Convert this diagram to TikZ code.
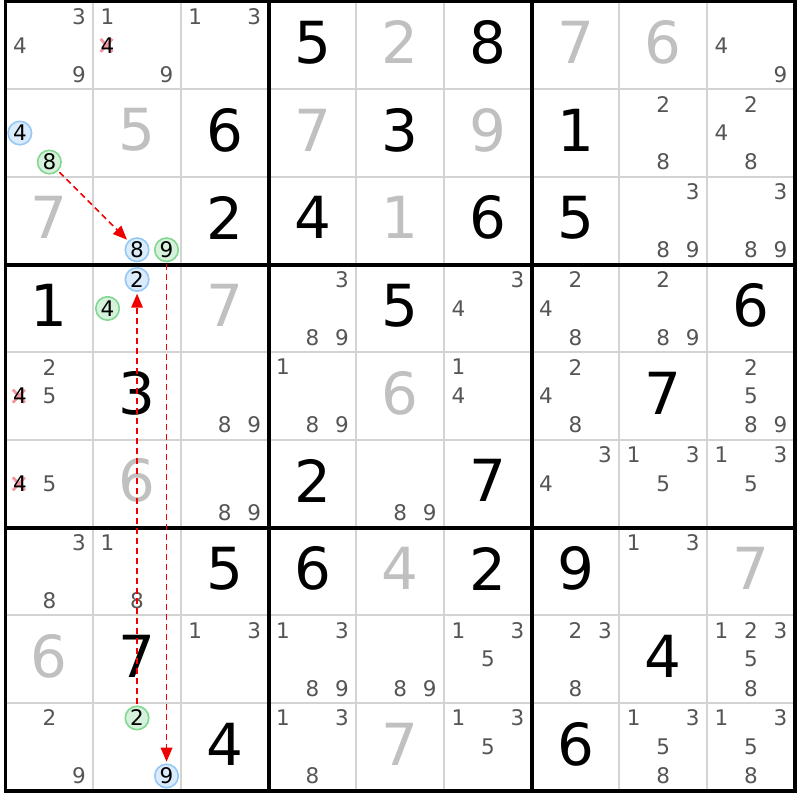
\documentclass[tikz,border=0pt]{standalone}
\usepackage{fontspec}
\setmainfont{DejaVu Sans}
\usetikzlibrary{arrows.meta}
\definecolor{thin}{RGB}{211,211,211}
\definecolor{candc}{RGB}{85,85,85}
\definecolor{solvedc}{RGB}{192,192,192}
\definecolor{blueb}{RGB}{150,200,245}
\definecolor{bluef}{RGB}{218,236,252}
\definecolor{greenb}{RGB}{130,215,145}
\definecolor{greenf}{RGB}{214,242,220}
\definecolor{xpink}{RGB}{245,150,160}
\definecolor{arrowred}{RGB}{240,0,0}
\tikzset{
  givenstyle/.style={inner sep=0pt, text=black, font=\fontsize{58}{60}\selectfont},
  solvedstyle/.style={inner sep=0pt, text=solvedc, font=\fontsize{58}{60}\selectfont},
  cand/.style={inner sep=0pt, text=candc, font=\fontsize{21.5}{23}\selectfont},
  bluecirc/.style={circle, draw=blueb, fill=bluef, line width=1.6pt, minimum size=23.5pt, text=black, outer sep=2.5pt},
  greencirc/.style={circle, draw=greenb, fill=greenf, line width=1.6pt, minimum size=23.5pt, text=black, outer sep=2.5pt},
  xmark/.style={draw=xpink, line width=2.8pt},
  linkarrow/.style={draw=arrowred, line width=1.6pt, dash pattern=on 6pt off 4pt, -{Triangle[length=14pt,width=11.5pt]}},
  thinline/.style={draw=thin, line width=2pt},
  thickline/.style={draw=black, line width=3.8pt}
}
\newcommand\gv[3]{\node[givenstyle] (v#1#2) at ({5.5+87.7*(#2-0.5)},{1.5+87.7*(#1-0.5)-3}) {#3};}
\newcommand\sv[3]{\node[solvedstyle] (v#1#2) at ({5.5+87.7*(#2-0.5)},{1.5+87.7*(#1-0.5)-3}) {#3};}
\newcommand\cnd[4][]{%
  \pgfmathsetmacro\cndx{5.5+87.7*(#3-0.5)+(mod(#4-1,3)-1)*29.5}%
  \pgfmathsetmacro\cndy{1.5+87.7*(#2-0.5)+(floor((#4-1)/3)-1)*29}%
  \node[cand,#1] (k#2#3#4) at (\cndx,\cndy) {#4};}
\newcommand\cnds[3]{\foreach \dd in {#3}{\cnd{#1}{#2}{\dd}}}
\newcommand\xcnd[3]{%
  \pgfmathsetmacro\cndx{5.5+87.7*(#2-0.5)+(mod(#3-1,3)-1)*29.5}%
  \pgfmathsetmacro\cndy{1.5+87.7*(#1-0.5)+(floor((#3-1)/3)-1)*29}%
  \draw[xmark] (\cndx-7,\cndy-6.5) -- (\cndx+5,\cndy+6.5);
  \draw[xmark] (\cndx-7,\cndy+6.5) -- (\cndx+5,\cndy-6.5);
  \node[cand,text=black] (k#1#2#3) at (\cndx,\cndy) {#3};}
\begin{document}
\begin{tikzpicture}[x=1pt,y=-1pt]
\useasboundingbox[fill=white] (0,0) rectangle (800,800);
% thin grid lines
\foreach \i in {1,2,4,5,7,8}{
  \draw[thinline] ({5.5+87.7*\i},1.5) -- ({5.5+87.7*\i},790.8);
  \draw[thinline] (5.5,{1.5+87.7*\i}) -- (794.8,{1.5+87.7*\i});
}
% thick grid lines
\foreach \i in {3,6}{
  \draw[thickline] ({5.5+87.7*\i},1.5) -- ({5.5+87.7*\i},790.8);
  \draw[thickline] (5.5,{1.5+87.7*\i}) -- (794.8,{1.5+87.7*\i});
}
\draw[thickline] (5.5,1.5) rectangle (794.8,790.8);
% givens
\gv{1}{4}{5}\gv{1}{6}{8}
\gv{2}{3}{6}\gv{2}{5}{3}\gv{2}{7}{1}
\gv{3}{3}{2}\gv{3}{4}{4}\gv{3}{6}{6}\gv{3}{7}{5}
\gv{4}{1}{1}\gv{4}{5}{5}\gv{4}{9}{6}
\gv{5}{2}{3}\gv{5}{8}{7}
\gv{6}{4}{2}\gv{6}{6}{7}
\gv{7}{3}{5}\gv{7}{4}{6}\gv{7}{6}{2}\gv{7}{7}{9}
\gv{8}{2}{7}\gv{8}{8}{4}
\gv{9}{3}{4}\gv{9}{7}{6}
% solved
\sv{1}{5}{2}\sv{1}{7}{7}\sv{1}{8}{6}
\sv{2}{2}{5}\sv{2}{4}{7}\sv{2}{6}{9}
\sv{3}{1}{7}\sv{3}{5}{1}
\sv{4}{3}{7}
\sv{5}{5}{6}
\sv{6}{2}{6}
\sv{7}{5}{4}\sv{7}{9}{7}
\sv{8}{1}{6}
\sv{9}{5}{7}
% candidates
\cnds{1}{1}{3,4,9}\cnds{1}{2}{1,9}\xcnd{1}{2}{4}\cnds{1}{3}{1,3}\cnds{1}{9}{4,9}
\cnd[bluecirc]{2}{1}{4}\cnd[greencirc]{2}{1}{8}\cnds{2}{8}{2,8}\cnds{2}{9}{2,4,8}
\cnd[bluecirc]{3}{2}{8}\cnd[greencirc]{3}{2}{9}\cnds{3}{8}{3,8,9}\cnds{3}{9}{3,8,9}
\cnd[bluecirc]{4}{2}{2}\cnd[greencirc]{4}{2}{4}\cnds{4}{4}{3,8,9}\cnds{4}{6}{3,4}\cnds{4}{7}{2,4,8}\cnds{4}{8}{2,8,9}
\cnds{5}{1}{2,5}\xcnd{5}{1}{4}\cnds{5}{3}{8,9}\cnds{5}{4}{1,8,9}\cnds{5}{6}{1,4}\cnds{5}{7}{2,4,8}\cnds{5}{9}{2,5,8,9}
\cnds{6}{1}{5}\xcnd{6}{1}{4}\cnds{6}{3}{8,9}\cnds{6}{5}{8,9}\cnds{6}{7}{3,4}\cnds{6}{8}{1,3,5}\cnds{6}{9}{1,3,5}
\cnds{7}{1}{3,8}\cnds{7}{2}{1,8}\cnds{7}{8}{1,3}
\cnds{8}{3}{1,3}\cnds{8}{4}{1,3,8,9}\cnds{8}{5}{8,9}\cnds{8}{6}{1,3,5}\cnds{8}{7}{2,3,8}\cnds{8}{9}{1,2,3,5,8}
\cnds{9}{1}{2,9}\cnd[greencirc]{9}{2}{2}\cnd[bluecirc]{9}{2}{9}\cnds{9}{4}{1,3,8}\cnds{9}{6}{1,3,5}\cnds{9}{8}{1,3,5,8}\cnds{9}{9}{1,3,5,8}
% links
\draw[linkarrow] (k218) -- (k328);
\draw[linkarrow] (k922) -- (k422);
\draw[linkarrow] (k329) -- (k929);
\end{tikzpicture}
\end{document}
